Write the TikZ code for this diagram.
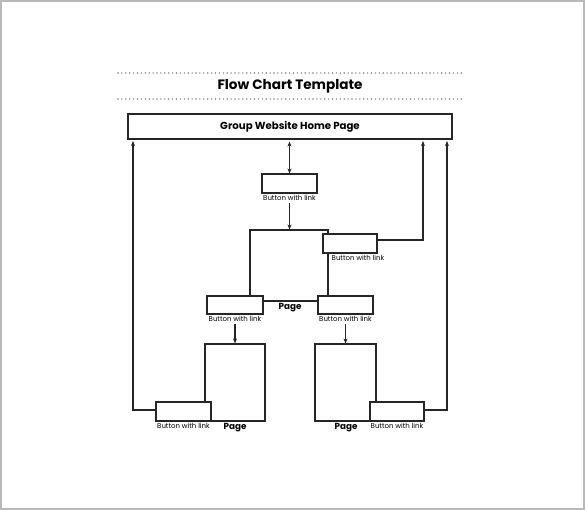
\documentclass[tikz,border=0pt]{standalone}
\usepackage{fontspec}
\setmainfont{Poppins}
\usetikzlibrary{arrows.meta}

\begin{document}
\begin{tikzpicture}[x=1pt, y=-1pt, line width=1.2pt, draw=black!85, >={Stealth[length=5pt, width=4pt]},
    box/.style={draw=black!85, fill=white, inner sep=0pt},
    caption/.style={font=\fontsize{7}{8}\selectfont, inner sep=1pt},
    pagetext/.style={font=\bfseries\fontsize{8.8}{10}\selectfont, inner sep=1pt}]
    \useasboundingbox (0, 0) rectangle (585, 510);
    \draw[gray!55, line width=2pt] (1, 1) rectangle (584, 509);

    % title between two dotted rules
    \draw[gray, line width=1.6pt, line cap=round, dash pattern=on 0pt off 3.9pt] (118, 73) -- (465, 73);
    \draw[gray, line width=1.6pt, line cap=round, dash pattern=on 0pt off 3.9pt] (118, 99) -- (465, 99);
    \node (title) at (290, 86) {\bfseries\fontsize{13.6}{15}\selectfont Flow Chart Template};

    \node (home) [box, minimum width=324, minimum height=25] at (290, 126.5) {\bfseries\fontsize{10.2}{12}\selectfont Group Website Home Page};

    % pages
    \node (pagemid) [box, minimum width=78, minimum height=71] at (289, 265.5) {};
    \node (pagebl) [box, minimum width=60, minimum height=77] at (235, 382.5) {};
    \node (pagebr) [box, minimum width=61, minimum height=77] at (345.5, 382.5) {};

    % buttons
    \node (btop) [box, minimum width=55, minimum height=19] at (289.5, 183.5) {};
    \node (bmidr) [box, minimum width=54, minimum height=19] at (350, 243.5) {};
    \node (bmidl) [box, minimum width=56, minimum height=18] at (235, 305) {};
    \node (bmidrr) [box, minimum width=55, minimum height=18] at (345.5, 305) {};
    \node (bbl) [box, minimum width=55, minimum height=19] at (183.5, 411.5) {};
    \node (bbr) [box, minimum width=54, minimum height=19] at (397, 411.5) {};

    % labels
    \node (ltop) [caption, below] at (btop.south) {Button with link};
    \node (lmidr) [caption, below, xshift=8pt] at (bmidr.south) {Button with link};
    \node (lmidl) [caption, below] at (bmidl.south) {Button with link};
    \node (lmidrr) [caption, below] at (bmidrr.south) {Button with link};
    \node (lbl) [caption, below] at (bbl.south) {Button with link};
    \node (lbr) [caption, below] at (bbr.south) {Button with link};
    \node (pmid) [pagetext] at (290, 308) {Page};
    \node (pbl) [pagetext] at (235, 428) {Page};
    \node (pbr) [pagetext] at (346, 428) {Page};

    \coordinate (upl) at (133, 141);
    \coordinate (upr) at (423, 141);
    \coordinate (uprr) at (447, 141);

    \draw[<->, shorten <=2pt] (home.south -| btop.north) -- (btop.north);
    \draw[->, shorten <=1pt] (ltop.south) -- (pagemid.north -| ltop.south);
    \draw[->, shorten <=1pt] (lmidl.south) -- (pagebl.north -| lmidl.south);
    \draw[->, shorten <=1pt] (lmidrr.south) -- (pagebr.north -| lmidrr.south);
    \draw[->] ([yshift=3.5pt]bmidr.east) -| (upr);
    \draw[->] ([yshift=1.5pt]bbl.west) -| (upl);
    \draw[->] ([yshift=1.5pt]bbr.east) -| (uprr);
\end{tikzpicture}
\end{document}
